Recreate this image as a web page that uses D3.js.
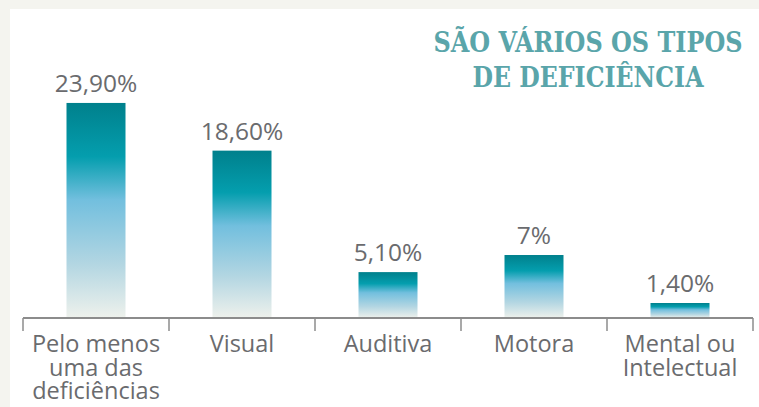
<!DOCTYPE html>
<html>
<head>
<meta charset="utf-8">
<script src="https://cdn.jsdelivr.net/npm/d3@7"></script>
<style>
  body { margin: 0; background: #f4f4ef; }
  svg { display: block; }
</style>
</head>
<body>
<div id="chart"></div>
<script>
// data
let categories = ["Pelo menos|uma das|deficiências", "Visual", "Auditiva", "Motora", "Mental ou|Intelectual"];
let values = [23.9, 18.6, 5.1, 7, 1.4];
let valueLabels = ["23,90%", "18,60%", "5,10%", "7%", "1,40%"];
let titleLines = ["SÃO VÁRIOS OS TIPOS", "DE DEFICIÊNCIA"];

let W = 759, H = 407;
let margin = {top: 80, right: 6, bottom: 89, left: 23};
let width = 753 - margin.left,
    height = 318 - margin.top;

let svg = d3.select("#chart").append("svg")
    .attr("width", W)
    .attr("height", H);

// white panel
svg.append("rect")
    .attr("x", 10).attr("y", 9)
    .attr("width", W - 10).attr("height", H - 9)
    .attr("fill", "#ffffff");

let grad = svg.append("defs").append("linearGradient")
    .attr("id", "barGrad")
    .attr("x1", 0).attr("y1", 0).attr("x2", 0).attr("y2", 1);
[["0%", "#00808c"], ["25%", "#049eae"], ["45%", "#72bfde"], ["75%", "#b3d6e2"], ["100%", "#eef1ec"]]
    .forEach(s => grad.append("stop").attr("offset", s[0]).attr("stop-color", s[1]));

let g = svg.append("g")
    .attr("transform", "translate(" + margin.left + "," + margin.top + ")");

let x = d3.scaleBand()
    .domain(categories)
    .range([0, width])
    .paddingInner(0)
    .paddingOuter(0);

let y = d3.scaleLinear()
    .domain([0, 26.45])
    .range([height, 0]);

let barW = 59;

g.selectAll(".bar")
    .data(values)
    .enter()
    .append("rect")
    .attr("class", "bar")
    .attr("x", (d, i) => x(categories[i]) + x.bandwidth() / 2 - barW / 2)
    .attr("y", d => Math.min(y(d), height - 15))
    .attr("width", barW)
    .attr("height", d => Math.max(height - y(d), 15))
    .attr("fill", "url(#barGrad)");

g.selectAll(".val")
    .data(values)
    .enter()
    .append("text")
    .attr("class", "val")
    .attr("x", (d, i) => x(categories[i]) + x.bandwidth() / 2)
    .attr("y", d => Math.min(y(d), height - 15) - 11)
    .attr("text-anchor", "middle")
    .style("font-family", "'Open Sans', sans-serif")
    .style("font-size", "24.5px")
    .style("fill", "#6a6b6e")
    .text((d, i) => valueLabels[i]);

// axis line + ticks at band edges
let axisG = g.append("g").attr("transform", "translate(0," + height + ")");
axisG.append("line")
    .attr("x1", 0).attr("x2", width)
    .attr("y1", 0).attr("y2", 0)
    .attr("stroke", "#8c8c8c").attr("stroke-width", 2);
let edges = categories.map(c => x(c)).concat([width]);
axisG.selectAll(".tick")
    .data(edges)
    .enter()
    .append("line")
    .attr("x1", d => d).attr("x2", d => d)
    .attr("y1", 0).attr("y2", 13)
    .attr("stroke", "#8c8c8c").attr("stroke-width", 1.5);

let labels = axisG.selectAll(".cat")
    .data(categories)
    .enter()
    .append("text")
    .attr("class", "cat")
    .attr("x", d => x(d) + x.bandwidth() / 2)
    .attr("y", 34)
    .attr("text-anchor", "middle")
    .style("font-family", "'Open Sans', sans-serif")
    .style("font-size", "23.5px")
    .style("fill", "#6a6b6e");
labels.each(function(d) {
    let t = d3.select(this);
    d.split("|").forEach((line, i) => {
        t.append("tspan")
            .attr("x", x(d) + x.bandwidth() / 2)
            .attr("dy", i === 0 ? 0 : 23.5)
            .text(line);
    });
});

// title, one text per line so each can be fitted to its width
titleLines.forEach((line, i) => {
    svg.append("text")
        .attr("class", "title")
        .attr("x", 588)
        .attr("y", 52 + i * 35)
        .attr("text-anchor", "middle")
        .attr("textLength", i === 0 ? 309 : 231)
        .attr("lengthAdjust", "spacingAndGlyphs")
        .style("font-family", "'DejaVu Serif Condensed', 'DejaVu Serif', serif")
        .style("font-weight", "bold")
        .style("font-size", "27.5px")
        .style("fill", "#5aa5aa")
        .text(line);
});
</script>
</body>
</html>
